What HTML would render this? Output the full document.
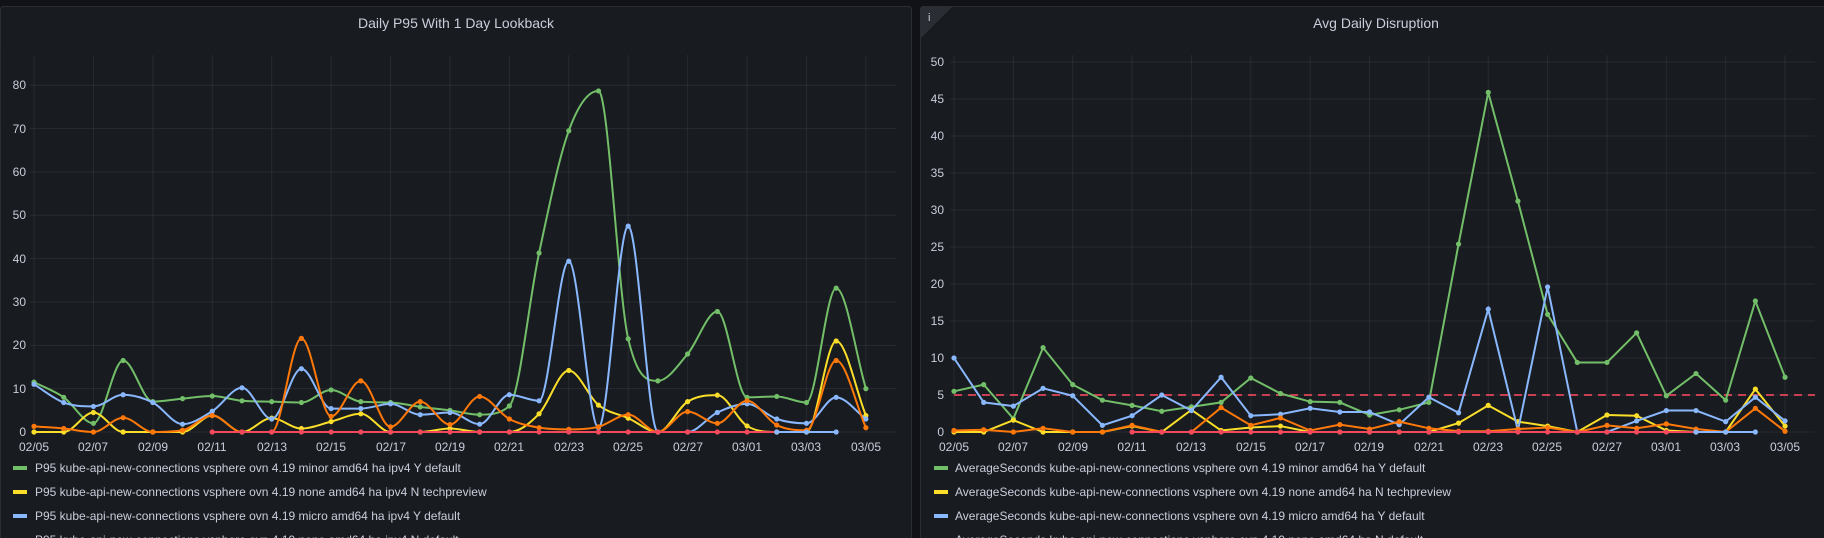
<!DOCTYPE html>
<html><head><meta charset="utf-8"><style>
html,body{margin:0;padding:0;background:#111217;width:1824px;height:538px;overflow:hidden;font-family:"Liberation Sans",sans-serif}
svg{position:absolute;left:0;top:0}
text{fill:#ccccdc;font-family:"Liberation Sans",sans-serif}
</style></head><body>
<svg id="s" width="1824" height="538" xmlns="http://www.w3.org/2000/svg">
<rect x="0.5" y="6.5" width="911" height="540" rx="3" fill="#181b1f" stroke="#2a2d33"/>
<rect x="920.5" y="6.5" width="910" height="540" rx="3" fill="#181b1f" stroke="#2a2d33"/>
<polygon points="921,7 952,7 921,38" fill="#2a2d33"/>
<text x="928" y="21" font-size="11" fill="#ccccdc">i</text>
<text x="456" y="28" font-size="14" text-anchor="middle">Daily P95 With 1 Day Lookback</text>
<text x="1376" y="28" font-size="14" text-anchor="middle">Avg Daily Disruption</text>
<g id="grid" stroke="rgba(204,204,220,0.09)" stroke-width="1"></g>
<g font-size="12" text-anchor="end">
<text x="26" y="436">0</text><text x="26" y="393">10</text><text x="26" y="349">20</text><text x="26" y="306">30</text><text x="26" y="263">40</text><text x="26" y="219">50</text><text x="26" y="176">60</text><text x="26" y="133">70</text><text x="26" y="89">80</text>
<text x="944" y="436">0</text><text x="944" y="399">5</text><text x="944" y="362">10</text><text x="944" y="325">15</text><text x="944" y="288">20</text><text x="944" y="251">25</text><text x="944" y="214">30</text><text x="944" y="177">35</text><text x="944" y="140">40</text><text x="944" y="103">45</text><text x="944" y="66">50</text>
</g>
<g font-size="12" text-anchor="middle">
<text x="34" y="451">02/05</text><text x="93" y="451">02/07</text><text x="153" y="451">02/09</text><text x="212" y="451">02/11</text><text x="272" y="451">02/13</text><text x="331" y="451">02/15</text><text x="391" y="451">02/17</text><text x="450" y="451">02/19</text><text x="509" y="451">02/21</text><text x="569" y="451">02/23</text><text x="628" y="451">02/25</text><text x="688" y="451">02/27</text><text x="747" y="451">03/01</text><text x="806" y="451">03/03</text><text x="866" y="451">03/05</text>
<text x="954" y="451">02/05</text><text x="1013" y="451">02/07</text><text x="1073" y="451">02/09</text><text x="1132" y="451">02/11</text><text x="1191" y="451">02/13</text><text x="1251" y="451">02/15</text><text x="1310" y="451">02/17</text><text x="1369" y="451">02/19</text><text x="1429" y="451">02/21</text><text x="1488" y="451">02/23</text><text x="1547" y="451">02/25</text><text x="1607" y="451">02/27</text><text x="1666" y="451">03/01</text><text x="1725" y="451">03/03</text><text x="1785" y="451">03/05</text>
</g>
<line x1="954" y1="395" x2="1815" y2="395" stroke="#f2495c" stroke-width="2" stroke-dasharray="8,6" opacity="0.8"/>
<g id="series"></g>
<g font-size="12">
<rect x="13" y="466" width="14" height="4" fill="#73bf69"/><text x="35" y="472">P95 kube-api-new-connections vsphere ovn 4.19 minor amd64 ha ipv4 Y default</text>
<rect x="13" y="490" width="14" height="4" fill="#fade2a"/><text x="35" y="496">P95 kube-api-new-connections vsphere ovn 4.19 none amd64 ha ipv4 N techpreview</text>
<rect x="13" y="514" width="14" height="4" fill="#8ab8ff"/><text x="35" y="520">P95 kube-api-new-connections vsphere ovn 4.19 micro amd64 ha ipv4 Y default</text>
<rect x="13" y="538" width="14" height="4" fill="#ff780a"/><text x="35" y="544">P95 kube-api-new-connections vsphere ovn 4.19 none amd64 ha ipv4 N default</text>
<rect x="934" y="466" width="14" height="4" fill="#73bf69"/><text x="955" y="472">AverageSeconds kube-api-new-connections vsphere ovn 4.19 minor amd64 ha Y default</text>
<rect x="934" y="490" width="14" height="4" fill="#fade2a"/><text x="955" y="496">AverageSeconds kube-api-new-connections vsphere ovn 4.19 none amd64 ha N techpreview</text>
<rect x="934" y="514" width="14" height="4" fill="#8ab8ff"/><text x="955" y="520">AverageSeconds kube-api-new-connections vsphere ovn 4.19 micro amd64 ha Y default</text>
<rect x="934" y="538" width="14" height="4" fill="#ff780a"/><text x="955" y="544">AverageSeconds kube-api-new-connections vsphere ovn 4.19 none amd64 ha N default</text>
</g>
</svg>
<script>
var NS="http://www.w3.org/2000/svg";
function el(p,t,a){var e=document.createElementNS(NS,t);for(var k in a)e.setAttribute(k,a[k]);p.appendChild(e);return e;}
var g=document.getElementById('grid'),s=document.getElementById('series');
for(var i=0;i<=8;i++){var y=432-i*43.34;el(g,'line',{x1:30,x2:896,y1:y,y2:y});}
for(var i=0;i<=10;i++){var y=432-i*37;el(g,'line',{x1:950,x2:1815,y1:y,y2:y});}
for(var i=0;i<15;i++){var x=34+i*2*29.71;el(g,'line',{x1:x,x2:x,y1:55,y2:432});x=954+i*2*29.68;el(g,'line',{x1:x,x2:x,y1:55,y2:432});}
var C={g:'#73bf69',y:'#fade2a',b:'#8ab8ff',o:'#ff780a',r:'#f2495c'};
var L={
g:[11.5,8,2,16.5,7,7.7,8.3,7.2,7,6.8,9.7,7,6.8,5.8,5,4,6,41.3,69.5,78.7,21.5,11.8,18,27.8,8,8.2,6.8,33.2,10],
y:[0,0,4.5,0,0,0,3.8,0,3.2,0.8,2.4,4.2,0,0,0.8,0,0,4.2,14.2,6.2,3.2,0,7,8.5,1.4,0,0,21,3.8],
b:[11,6.8,5.9,8.6,6.8,1.8,4.8,10.2,3,14.6,5.4,5.4,6.5,4,4.5,1.8,8.6,7.2,39.4,1,47.5,0,0,4.5,6.5,3,2,8,3],
o:[1.3,0.8,0,3.3,0,0.4,3.8,0,0,21.6,3.6,11.8,1.2,7,1.7,8.2,3,1,0.6,1.2,4,0,4.7,2,7.2,1.6,0.4,16.5,1]};
var R={
g:[5.5,6.4,1.8,11.4,6.4,4.3,3.6,2.8,3.4,4,7.3,5.2,4.1,4,2.3,3,4,25.4,45.9,31.2,15.9,9.4,9.4,13.4,4.9,7.9,4.3,17.7,7.4],
y:[0,0,1.6,0,0,0,0.8,0,3,0.2,0.6,0.8,0,0,0,0,0,1.2,3.6,1.4,0.8,0,2.3,2.2,0.2,0,0,5.8,0.8],
b:[10,4,3.5,5.9,4.9,0.9,2.2,5,2.9,7.4,2.2,2.4,3.2,2.7,2.7,1,4.7,2.6,16.6,0.2,19.6,0,0,1.5,2.9,2.9,1.4,4.7,1.5],
o:[0.2,0.3,0,0.5,0,0,0.9,0,0,3.3,0.9,1.9,0.2,1,0.4,1.4,0.5,0.1,0.1,0.4,0.6,0,0.9,0.5,1.1,0.4,0,3.2,0.1]};
function draw(data,fx,fy,smooth,col,i0){
 var P=data.map(function(v,i){return [fx(i+i0),fy(v)];});
 var n=P.length,d='M'+P[0][0]+','+P[0][1];
 if(smooth){
  var dx=P[1][0]-P[0][0],sl=[],m=[];
  for(var i=0;i<n-1;i++)sl.push((P[i+1][1]-P[i][1])/dx);
  m[0]=sl[0];m[n-1]=sl[n-2];
  for(var i=1;i<n-1;i++){m[i]=(sl[i-1]*sl[i]<=0)?0:(sl[i-1]+sl[i])/2;}
  for(var i=0;i<n-1;i++){
   if(sl[i]==0){m[i]=0;m[i+1]=0;continue;}
   var a=m[i]/sl[i],b=m[i+1]/sl[i],h=a*a+b*b;
   if(h>9){var t=3/Math.sqrt(h);m[i]=t*a*sl[i];m[i+1]=t*b*sl[i];}
  }
  for(var i=0;i<n-1;i++){
   d+='C'+(P[i][0]+dx/3)+','+(P[i][1]+m[i]*dx/3)+' '+(P[i+1][0]-dx/3)+','+(P[i+1][1]-m[i+1]*dx/3)+' '+P[i+1][0]+','+P[i+1][1];
  }
 } else for(var i=1;i<n;i++)d+='L'+P[i][0]+','+P[i][1];
 el(s,'path',{d:d,fill:'none',stroke:col,'stroke-width':2});
 P.forEach(function(p){el(s,'circle',{cx:p[0],cy:p[1],r:2.6,fill:col});});
}
function fxl(i){return 34+i*29.71;} function fyl(v){return 432-v*4.334;}
function fxr(i){return 954+i*29.68;} function fyr(v){return 432-v*7.4;}
function z(n){var a=[];for(var i=0;i<n;i++)a.push(0);return a;}
['g','y','b','o'].forEach(function(k){draw(L[k],fxl,fyl,true,C[k],0);draw(R[k],fxr,fyr,false,C[k],0);});
draw(z(20),fxl,fyl,false,C.r,6);draw(z(20),fxr,fyr,false,C.r,6);
draw(z(3),fxl,fyl,false,C.b,25);draw(z(3),fxr,fyr,false,C.b,25);
</script>
</body></html>
